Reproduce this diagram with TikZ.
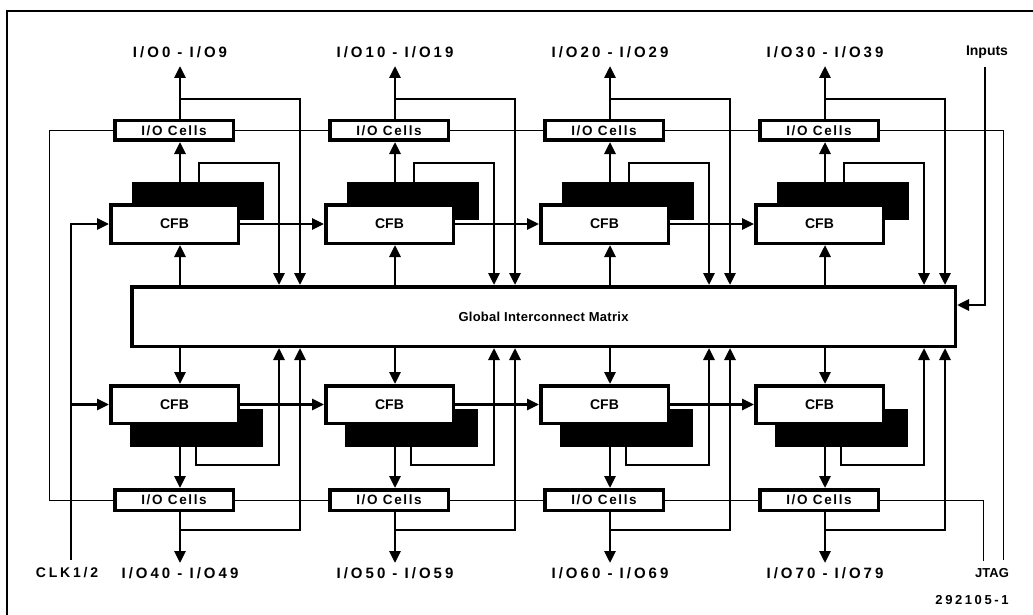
\documentclass[tikz,border=0pt]{standalone}
\usepackage{fontspec}
\setmainfont{Liberation Sans}
\newfontfamily\lblfont{Liberation Sans}[LetterSpace=20]
\newfontfamily\cellfont{Liberation Sans}[LetterSpace=12]
\newfontfamily\gimfont{Liberation Sans}[LetterSpace=2]
\usetikzlibrary{arrows.meta}
\tikzset{
  thk/.style={line width=2.8pt},
  arr/.style={thk, -{Triangle[length=12pt,width=11pt]}},
  thinl/.style={line width=0.9pt},
  boxn/.style={draw, line width=3.5pt, fill=white, inner sep=0pt},
  shad/.style={fill=black, inner sep=0pt},
  lbl/.style={font=\lblfont\bfseries\fontsize{15}{17}\selectfont, inner sep=0pt},
  plainlbl/.style={font=\bfseries\fontsize{14}{16}\selectfont, inner sep=0pt},
  cfbf/.style={font=\bfseries\fontsize{14}{16}\selectfont},
  cellf/.style={font=\cellfont\bfseries\fontsize{13.5}{15}\selectfont},
}
\begin{document}
\begin{tikzpicture}[x=1pt,y=-1pt]
\useasboundingbox (0,0) rectangle (1033,615);
% frame
\draw[line width=1.6pt] (7,615) -- (7,11) -- (1033,11);

% matrix
\node[boxn, minimum width=823.5pt, minimum height=59.5pt,
      font=\gimfont\bfseries\fontsize{13}{15}\selectfont] (gim) at (543.5,316.5) {Global Interconnect Matrix};

\foreach \i/\c in {1/180,2/395,3/610,4/825}{
  \coordinate (col\i) at (\c,0);
  % top half
  \node[shad, minimum width=132pt, minimum height=38pt] (sht\i) at (\c+18,201) {};
  \node[boxn, cfbf, minimum width=127.5pt, minimum height=38.5pt] (cfbt\i) at (\c-5.5,224) {CFB};
  \node[boxn, cellf, minimum width=118.5pt, minimum height=19.5pt] (iot\i) at (\c-6,130.5) {I/O Cells};
  % bottom half
  \node[shad, minimum width=133pt, minimum height=38pt] (shb\i) at (\c+16.5,428) {};
  \node[boxn, cfbf, minimum width=127.5pt, minimum height=37.5pt] (cfbb\i) at (\c-5.5,404.5) {CFB};
  \node[boxn, cellf, minimum width=118.5pt, minimum height=20.5pt] (iob\i) at (\c-6,500) {I/O Cells};
  % coordinates
  \coordinate (tt\i) at (\c,66);
  \coordinate (fa\i) at (\c,99);
  \coordinate (fb\i) at (\c+120,99);
  \coordinate (ra\i) at (\c+19,163);
  \coordinate (rb\i) at (\c+99,163);
  \coordinate (sa\i) at (\c+16,465);
  \coordinate (sb\i) at (\c+99,465);
  \coordinate (ga\i) at (\c,530);
  \coordinate (gb\i) at (\c+120,530);
  \coordinate (tb\i) at (\c,563);
  % top connectors
  \draw[arr] (iot\i.north -| col\i) -- (tt\i);
  \draw[arr] (fa\i) -- (fb\i) -- (fb\i |- gim.north);
  \draw[arr] (sht\i.north -| col\i) -- (iot\i.south -| col\i);
  \draw[arr] (sht\i.north -| ra\i) -- (ra\i) -- (rb\i) -- (rb\i |- gim.north);
  \draw[arr] (gim.north -| col\i) -- (cfbt\i.south -| col\i);
  % bottom connectors
  \draw[arr] (gim.south -| col\i) -- (cfbb\i.north -| col\i);
  \draw[arr] (shb\i.south -| col\i) -- (iob\i.north -| col\i);
  \draw[arr] (shb\i.south -| sa\i) -- (sa\i) -- (sb\i) -- (sb\i |- gim.south);
  \draw[arr] (iob\i.south -| col\i) -- (tb\i);
  \draw[arr] (ga\i) -- (gb\i) -- (gb\i |- gim.south);
}

\foreach \i/\j in {1/2,2/3,3/4}{
  \draw[arr] (cfbt\i.east) -- (cfbt\j.west);
  \draw[arr] (cfbb\i.east) -- (cfbb\j.west);
  \draw[thinl] (iot\i.east) -- (iot\j.west);
  \draw[thinl] (iob\i.east) -- (iob\j.west);
}

% JTAG chain
\coordinate (jl) at (49,0);
\coordinate (jr) at (1003,560);
\coordinate (jt) at (983,561);
\draw[thinl] (iob1.west) -- (jl |- iob1.west) -- (jl |- iot1.west) -- (iot1.west);
\draw[thinl] (iot4.east) -| (jr);
\draw[thinl] (iob4.east) -| (jt);

% clock
\coordinate (clk) at (71,560);
\draw[arr] (clk) |- (cfbt1.west);
\draw[arr] (clk |- cfbb1.west) -- (cfbb1.west);

% inputs
\coordinate (inp) at (985,67);
\coordinate (inb) at (985,305);
\draw[arr] (inp) -- (inb) -- (gim.east |- inb);

% labels
\node[lbl] (l0) at (180,52) {I/O0 - I/O9};
\node[lbl] (l1) at (395,52) {I/O10 - I/O19};
\node[lbl] (l2) at (610,52) {I/O20 - I/O29};
\node[lbl] (l3) at (825,52) {I/O30 - I/O39};
\node[lbl] (l4) at (180,573) {I/O40 - I/O49};
\node[lbl] (l5) at (395,573) {I/O50 - I/O59};
\node[lbl] (l6) at (610,573) {I/O60 - I/O69};
\node[lbl] (l7) at (825,573) {I/O70 - I/O79};
\node[plainlbl] (linp) at (987,52) {Inputs};
\node[font=\lblfont\bfseries\fontsize{14}{16}\selectfont, inner sep=0pt] (lclk) at (67,573) {CLK1/2};
\node[font=\bfseries\fontsize{13}{15}\selectfont, inner sep=0pt] (ljtag) at (992,573) {JTAG};
\node[font=\lblfont\bfseries\fontsize{13}{15}\selectfont, inner sep=0pt] (lnum) at (972,600) {292105-1};
\end{tikzpicture}
\end{document}
